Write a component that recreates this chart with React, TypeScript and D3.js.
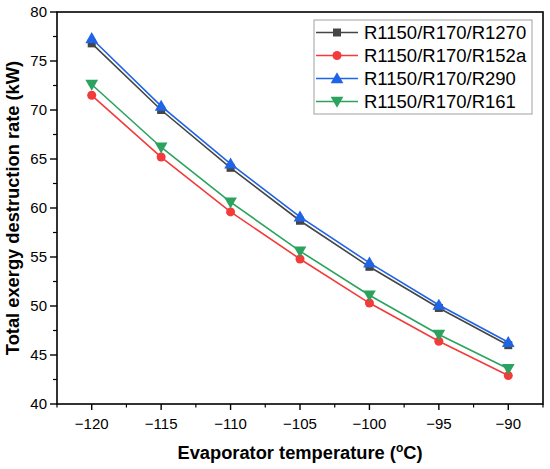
import React from 'react';
import { scaleLinear, line, symbol, symbolSquare, symbolCircle, symbolTriangle, range } from 'd3';

const temps = [-120, -115, -110, -105, -100, -95, -90];
const r1270 = [76.8, 70.0, 64.1, 58.7, 54.0, 49.8, 46.0];
const r152a = [71.5, 65.2, 59.6, 54.8, 50.3, 46.4, 42.9];
const r290 = [77.3, 70.4, 64.5, 59.1, 54.4, 50.1, 46.3];
const r161 = [72.6, 66.2, 60.6, 55.6, 51.1, 47.1, 43.6];

const seriesNames = ['R1150/R170/R1270', 'R1150/R170/R152a', 'R1150/R170/R290', 'R1150/R170/R161'];
const xTicks = [-120, -115, -110, -105, -100, -95, -90];
const yTicks = [40, 45, 50, 55, 60, 65, 70, 75, 80];

const width = 550;
const height = 469;
const margin = { left: 57, top: 12, right: 7, bottom: 65 };

const colors = ['#454545', '#f43b3b', '#1f64e6', '#2ba35e'];
const font = '"Liberation Sans", Arial, sans-serif';

type Marker = 'square' | 'circle' | 'up' | 'down';
const markers: Marker[] = ['square', 'circle', 'up', 'down'];

function markerPath(m: Marker) {
  if (m === 'square') return symbol(symbolSquare, 64)();
  if (m === 'circle') return symbol(symbolCircle, 64)();
  return symbol(symbolTriangle, 70)();
}

function Mark({ m, x, y, c }: { m: Marker; x: number; y: number; c: string }) {
  const rot = m === 'down' ? 180 : 0;
  const dy = m === 'up' ? 1 : m === 'down' ? -1 : 0;
  return <path d={markerPath(m)!} transform={`translate(${x},${y + dy}) rotate(${rot})`} fill={c} />;
}

export default function App() {
  const x = scaleLinear().domain([-122.5, -87.5]).range([margin.left, width - margin.right]);
  const y = scaleLinear().domain([40, 80]).range([height - margin.bottom, margin.top]);
  const data = [r1270, r152a, r290, r161];
  const ln = line<number>().x((_, i) => x(temps[i])).y(d => y(d));
  const x0 = margin.left;
  const y0 = height - margin.bottom;
  const xMinor = range(-122.5, -87.4, 5);
  const yMinor = range(42.5, 80, 5);

  return (
    <svg width={width} height={height} style={{ position: 'absolute', left: 0, top: 0 }} fontFamily={font}>
      <rect x={0} y={0} width={width} height={height} fill="#fff" />
      {data.map((d, i) => (
        <path key={i} d={ln(d)!} fill="none" stroke={colors[i]} strokeWidth={1.6} />
      ))}
      {data.map((d, i) =>
        d.map((v, j) => <Mark key={`${i}-${j}`} m={markers[i]} x={x(temps[j])} y={y(v)} c={colors[i]} />)
      )}
      <rect x={x0} y={margin.top} width={width - margin.right - x0} height={y0 - margin.top}
        fill="none" stroke="#000" strokeWidth={1.6} />
      {xTicks.map(t => (
        <g key={t}>
          <line x1={x(t)} x2={x(t)} y1={y0} y2={y0 + 6} stroke="#000" strokeWidth={1.4} />
          <text x={x(t)} y={y0 + 25} textAnchor="middle" fontSize={15}>{'\u2212' + Math.abs(t)}</text>
        </g>
      ))}
      {xMinor.map(t => (
        <line key={t} x1={x(t)} x2={x(t)} y1={y0} y2={y0 + 3.5} stroke="#000" strokeWidth={1.2} />
      ))}
      {yTicks.map(t => (
        <g key={t}>
          <line x1={x0 - 7} x2={x0} y1={y(t)} y2={y(t)} stroke="#000" strokeWidth={1.4} />
          <text x={x0 - 10} y={y(t)} dy="0.36em" textAnchor="end" fontSize={15}>{t}</text>
        </g>
      ))}
      {yMinor.map(t => (
        <line key={t} x1={x0 - 4} x2={x0} y1={y(t)} y2={y(t)} stroke="#000" strokeWidth={1.2} />
      ))}
      <text x={(x0 + width - margin.right) / 2} y={459} textAnchor="middle" fontSize={18.3} fontWeight="bold">
        Evaporator temperature (<tspan dy="-7" fontSize={12}>o</tspan><tspan dy="7">C)</tspan>
      </text>
      <text transform={`translate(19,${(margin.top + y0) / 2}) rotate(-90)`} textAnchor="middle"
        fontSize={18.3} fontWeight="bold">Total exergy destruction rate (kW)</text>
      <rect x={314} y={20} width={218} height={94} fill="#fff" stroke="#a0a0a0" strokeWidth={1} />
      {seriesNames.map((n, i) => {
        const ly = 32.5 + i * 23;
        return (
          <g key={n}>
            <line x1={316} x2={358} y1={ly} y2={ly} stroke={colors[i]} strokeWidth={1.6} />
            <Mark m={markers[i]} x={337} y={ly} c={colors[i]} />
            <text x={364} y={ly} dy="0.36em" fontSize={18.5}>{n}</text>
          </g>
        );
      })}
    </svg>
  );
}
